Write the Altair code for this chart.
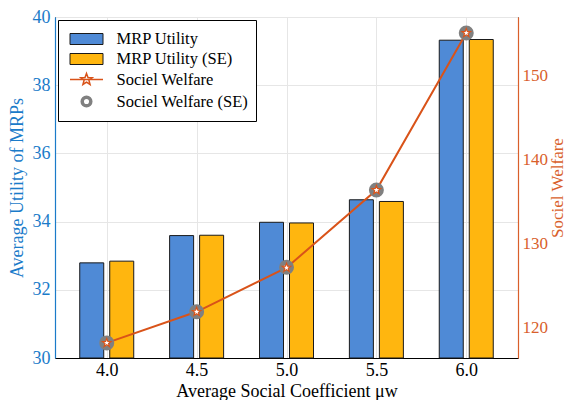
import math
import altair as alt
import pandas as pd

# ---------------- data ----------------
coef = [4.0, 4.5, 5.0, 5.5, 6.0]
mrp_utility = [32.79, 33.59, 33.98, 34.64, 39.32]
mrp_utility_se = [32.84, 33.60, 33.96, 34.59, 39.34]
social_welfare = [118.2, 121.9, 127.15, 136.4, 155.1]
social_welfare_se = [118.2, 121.9, 127.2, 136.4, 155.1]
series_names = ["MRP Utility", "MRP Utility (SE)", "Sociel Welfare", "Sociel Welfare (SE)"]
x_ticks = [4.0, 4.5, 5.0, 5.5, 6.0]
left_ticks = [30, 32, 34, 36, 38, 40]
right_ticks = [120, 130, 140, 150]

# ---------------- style ----------------
BLUE = "#4F8AD6"
YELLOW = "#FFB60F"
ORANGE = "#D95319"
GREY = "#808080"
LEFT_C = "#1A7BC9"
RIGHT_C = "#D95F2B"
EDGE = "#1a1a1a"
FONT = "Liberation Serif"


def star_path(R, inner=0.42):
    pts = []
    for i in range(10):
        r = R if i % 2 == 0 else R * inner
        a = -math.pi / 2 + i * math.pi / 5
        pts.append(f"{r * math.cos(a):.3f},{r * math.sin(a):.3f}")
    return "M" + "L".join(pts) + "Z"


RECT = "M-1.5,-0.5H1.5V0.5H-1.5Z"
LINE_STAR = "M-1.5,0H1.5" + star_path(0.55)
RING = "M-0.39,0A0.39,0.39 0 1,0 0.39,0A0.39,0.39 0 1,0 -0.39,0Z"

df = pd.DataFrame({
    "coef": coef,
    "mrp": mrp_utility,
    "mrp_se": mrp_utility_se,
    "sw": social_welfare,
    "sw_se": social_welfare_se,
})
leg_df = pd.DataFrame({"series": series_names, "coef": [None] * len(series_names)})

x_axis = alt.Axis(values=x_ticks, format=".1f", title="Average Social Coefficient μw",
                  grid=True, ticks=False, labelPadding=3, titlePadding=3,
                  domainColor="black", labelFlush=False, labelColor="black", titleColor="black",
                  labelFont=FONT, titleFont=FONT, labelFontSize=18, titleFontSize=18,
                  titleFontWeight="normal")
x_enc = alt.X("coef:Q", scale=alt.Scale(domain=[3.74, 6.26], nice=False, zero=False), axis=x_axis)

left_scale = alt.Scale(domain=[left_ticks[0], left_ticks[-1]], nice=False, zero=False)
left_axis = alt.Axis(values=left_ticks, title="Average Utility of MRPs", grid=True, ticks=False,
                     domainColor=LEFT_C, labelColor=LEFT_C, titleColor=LEFT_C,
                     labelPadding=5, titlePadding=6,
                     labelFont=FONT, titleFont=FONT, labelFontSize=18, titleFontSize=18,
                     titleFontWeight="normal")
right_scale = alt.Scale(domain=[116.4, 157.0], nice=False, zero=False)
right_axis = alt.Axis(values=right_ticks, title="Sociel Welfare", orient="right", grid=False, ticks=False,
                      domainColor=RIGHT_C, labelColor=RIGHT_C, titleColor=RIGHT_C,
                      labelPadding=4, titlePadding=2, titleAngle=270, titleBaseline="top",
                      labelFont=FONT, titleFont=FONT, labelFontSize=17, titleFontSize=17,
                      titleFontWeight="normal")

bars_blue = alt.Chart(df).mark_bar(width=24, xOffset=-15, fill=BLUE, stroke=EDGE, strokeWidth=1).encode(
    x=x_enc, y=alt.Y("mrp:Q", scale=left_scale, axis=left_axis), y2=alt.datum(left_ticks[0]))
bars_yellow = alt.Chart(df).mark_bar(width=24, xOffset=15, fill=YELLOW, stroke=EDGE, strokeWidth=1).encode(
    x=x_enc, y=alt.Y("mrp_se:Q", scale=left_scale, axis=left_axis), y2=alt.datum(left_ticks[0]))
left = alt.layer(bars_blue, bars_yellow)

line = alt.Chart(df).mark_line(stroke=ORANGE, strokeWidth=2).encode(
    x=x_enc, y=alt.Y("sw:Q", scale=right_scale, axis=right_axis))
ring = alt.Chart(df).mark_point(shape="circle", size=100, stroke=GREY, strokeWidth=5,
                                filled=False, opacity=1).encode(
    x=x_enc, y=alt.Y("sw_se:Q", scale=right_scale, axis=right_axis))
star = alt.Chart(df).mark_point(shape=star_path(1.0), size=81, fill="white", stroke=ORANGE,
                                strokeWidth=1.2, filled=True, opacity=1).encode(
    x=x_enc, y=alt.Y("sw:Q", scale=right_scale, axis=right_axis))

leg = alt.Legend(title=None, orient="none", legendX=3, legendY=3, strokeColor="black",
                 fillColor="white", padding=7.5, rowPadding=0, symbolOffset=8, labelOffset=17,
                 symbolSize=484, labelFont=FONT, labelFontSize=16.5, labelColor="black",
                 cornerRadius=0)
legend_layer = alt.Chart(leg_df).mark_point(filled=True, size=484, opacity=1).encode(
    x=x_enc,
    fill=alt.Fill("series:N", scale=alt.Scale(domain=series_names, range=[BLUE, YELLOW, "white", "white"]), legend=leg),
    stroke=alt.Stroke("series:N", scale=alt.Scale(domain=series_names, range=[EDGE, EDGE, ORANGE, GREY]), legend=leg),
    shape=alt.Shape("series:N", scale=alt.Scale(domain=series_names, range=[RECT, RECT, LINE_STAR, RING]), legend=leg),
    strokeWidth=alt.StrokeWidth("series:N", scale=alt.Scale(type="ordinal", domain=series_names, range=[1, 1, 1.5, 3.5]), legend=leg),
)
right = alt.layer(line, ring, star, legend_layer)

chart = alt.layer(left, right).resolve_scale(y="independent").properties(
    width=558, height=392,
    padding={"top": 0, "left": 0, "right": 0, "bottom": 0},
    autosize=alt.AutoSizeParams(type="fit", contains="padding"),
).configure(font=FONT).configure_view(stroke="black", strokeWidth=1).configure_axis(
    labelFont=FONT, titleFont=FONT, labelFontSize=18, titleFontSize=18,
    titleFontWeight="normal", gridColor="#e6e6e6", domainWidth=1.2
)

chart.save("out.html", embed_options={"renderer": "svg", "actions": False})
